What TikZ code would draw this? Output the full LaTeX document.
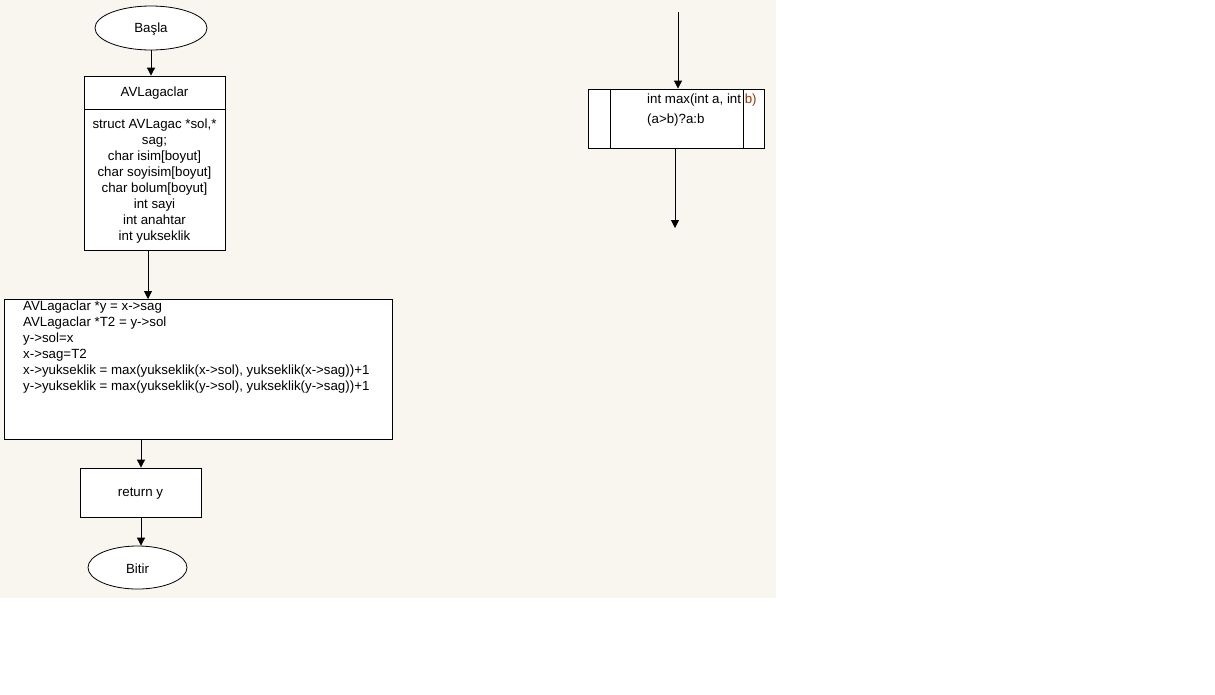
\documentclass[tikz,border=0pt]{standalone}
\usepackage{fontspec}
\setmainfont{Liberation Sans}
\usetikzlibrary{arrows.meta,shapes.geometric}
\definecolor{paper}{HTML}{F9F6EF}
\definecolor{spill}{HTML}{993300}
\begin{document}
\begin{tikzpicture}[x=1pt,y=-1pt,
  every node/.style={font=\fontsize{13.3}{16}\selectfont, inner sep=0pt},
  term/.style={draw, ellipse, fill=white, line width=0.8pt},
  procbox/.style={draw, fill=white, line width=0.8pt},
  flow/.style={-{Triangle[length=8pt,width=8pt]}, line width=0.8pt}]
\useasboundingbox (0,0) rectangle (1215,694);
\fill[paper] (0,0) rectangle (776,598);

% start terminal
\node[term, minimum width=112pt, minimum height=44pt] (start) at (151,28) {};
\node (startlbl) at (151,29.5) {Başla};

% structure box with title
\node[procbox, minimum width=141pt, minimum height=174pt] (avl) at (154.5,163) {};
\draw[line width=0.8pt] (84,109) -- (225,109);
\node (avltitle) at (154.5,93.5) {AVLagaclar};
\node[align=center] (avlbody) at (154.5,181.5) {struct AVLagac *sol,*\\sag;\\char isim[boyut]\\char soyisim[boyut]\\char bolum[boyut]\\int sayi\\int anahtar\\int yukseklik};

% rotation statements
\node[procbox, minimum width=388pt, minimum height=140pt] (rot) at (198,369) {};
\node[align=left, anchor=west] (rottext) at (23,347.5) {AVLagaclar *y = x->sag\\AVLagaclar *T2 = y->sol\\y->sol=x\\x->sag=T2\\x->yukseklik = max(yukseklik(x->sol), yukseklik(x->sag))+1\\y->yukseklik = max(yukseklik(y->sol), yukseklik(y->sag))+1};

% return box
\node[procbox, minimum width=121pt, minimum height=49pt] (ret) at (140.5,492.5) {};
\node (retlbl) at (140.5,494) {return y};

% end terminal
\node[term, minimum width=99pt, minimum height=43pt] (stop) at (137.5,567.5) {};
\node (stoplbl) at (137.5,568.5) {Bitir};

% subroutine box
\node[procbox, minimum width=176pt, minimum height=59pt] (sub) at (676,118.5) {};
\draw[line width=0.8pt] (610,89) -- (610,148);
\draw[line width=0.8pt] (743,89) -- (743,148);
\node[anchor=west] (subhead) at (647,100) {int max(int a, int \textcolor{spill}{b)}};
\node[anchor=west] (subbody) at (647,120) {(a>b)?a:b};

% connectors
\coordinate (inTop) at (678,12);
\coordinate (outEnd) at (675,228);
\draw[flow] (start.south) -- (avl.north -| start.south);
\draw[flow] (148,250) -- (148,299);
\draw[flow] (141,439) -- (ret.north -| 141,0);
\draw[flow] (ret.south -| 141,0) -- (stop.north -| 141,0);
\draw[flow] (inTop) -- (sub.north -| inTop);
\draw[flow] (sub.south -| outEnd) -- (outEnd);
\end{tikzpicture}
\end{document}
